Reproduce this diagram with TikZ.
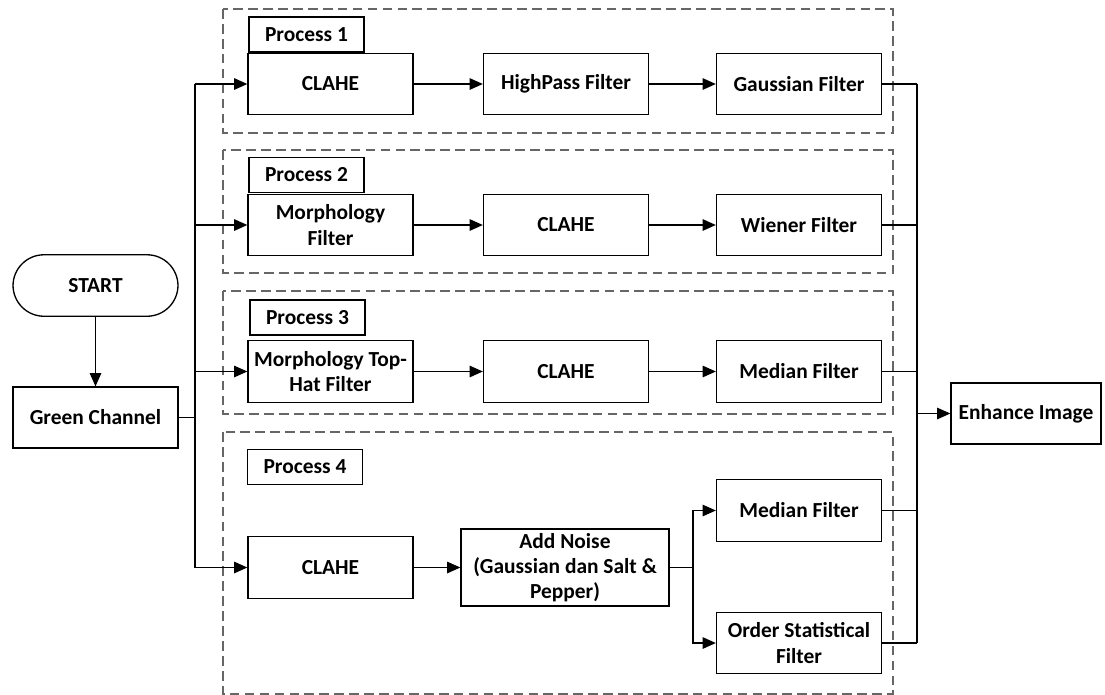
\documentclass[tikz,border=0pt]{standalone}
\usepackage{fontspec}
\setmainfont{Carlito}
\usetikzlibrary{arrows,arrows.meta}

\tikzset{
  box/.style={draw, line width=0.75pt, inner sep=1pt, align=center,
              minimum width=3.3cm, minimum height=1.23cm},
  tagbox/.style={draw, line width=0.75pt, inner sep=1pt,
                 minimum width=2.3cm, minimum height=0.7cm},
  grp/.style={draw=black!60, line width=0.7pt, dash pattern=on 5.5pt off 3pt},
  link/.style={line width=0.75pt}
}

\begin{document}
\begin{tikzpicture}[x=0.02cm, y=-0.02cm, >={Triangle[length=7.5pt,width=6.5pt]},
    every node/.style={font=\fontsize{12.2}{14.3}\selectfont\bfseries}]
    \useasboundingbox (0,0) rectangle (1105,694);

    % dashed groups
    \draw[grp] (223,9)   rectangle (893,133);
    \draw[grp] (223,150) rectangle (893,273);
    \draw[grp] (223,291) rectangle (893,414);
    \draw[grp] (223,432) rectangle (893,694);

    % left side
    \node[box, rounded corners=0.62cm] (start) at (95.5,285.5) {START};
    \node[box, minimum height=1.22cm] (green) at (95.5,417.5) {Green Channel};

    % process tags
    \node[tagbox] (tag1) at (306.5,34.5) {Process 1};
    \node[tagbox] (tag2) at (306.5,175)  {Process 2};
    \node[tagbox] (tag3) at (307.5,317.5) {Process 3};
    \node[tagbox] (tag4) at (305,467)    {Process 4};

    % process 1
    \node[box] (clahe1) at (330.5,84) {CLAHE};
    \node[box] (hpf)    at (566,84)   {HighPass Filter};
    \node[box] (gauss)  at (799,84)   {Gaussian Filter};

    % process 2
    \node[box] (morph)  at (330.5,225) {Morphology\\Filter};
    \node[box] (clahe2) at (566,225)   {CLAHE};
    \node[box] (wiener) at (799,225)   {Wiener Filter};

    % process 3
    \node[box] (tophat) at (330.5,371.5) {Morphology Top-\\Hat Filter};
    \node[box] (clahe3) at (566,371.5)   {CLAHE};
    \node[box] (median) at (799,371.5)   {Median Filter};

    % process 4
    \node[box] (clahe4)  at (330.5,567.5) {CLAHE};
    \node[box, minimum width=4.16cm, minimum height=1.54cm] (noise) at (565,567.5)
        {Add Noise\\(Gaussian dan Salt \&\\Pepper)};
    \node[box] (median4) at (799,510.5) {Median Filter};
    \node[box] (order)   at (799,643)   {Order Statistical\\Filter};

    % output
    \node[box, minimum width=3cm, minimum height=1.22cm] (enhance) at (1026,413.5) {Enhance Image};

    \coordinate (splitL) at (195,417.5);
    \coordinate (joinR)  at (917,413.5);
    \coordinate (split4) at (693,567.5);

    \draw[link,->] (start) -- (green);
    \draw[link] (green.east) -- (splitL);
    \draw[link] (splitL |- clahe1.west) -- (splitL |- clahe4.west);
    \foreach \n in {clahe1,morph,tophat,clahe4}
        \draw[link,->] (splitL |- \n.west) -- (\n.west);

    \draw[link,->] (clahe1) -- (hpf);
    \draw[link,->] (hpf) -- (gauss);
    \draw[link,->] (morph) -- (clahe2);
    \draw[link,->] (clahe2) -- (wiener);
    \draw[link,->] (tophat) -- (clahe3);
    \draw[link,->] (clahe3) -- (median);
    \draw[link,->] (clahe4) -- (noise);

    \draw[link] (noise.east) -- (split4);
    \draw[link,->] (split4) |- (median4.west);
    \draw[link,->] (split4) |- (order.west);

    \draw[link] (joinR |- gauss.east) -- (joinR |- order.east);
    \foreach \n in {gauss,wiener,median,median4,order}
        \draw[link] (\n.east) -- (joinR |- \n.east);
    \draw[link,->] (joinR) -- (enhance.west);
\end{tikzpicture}
\end{document}
